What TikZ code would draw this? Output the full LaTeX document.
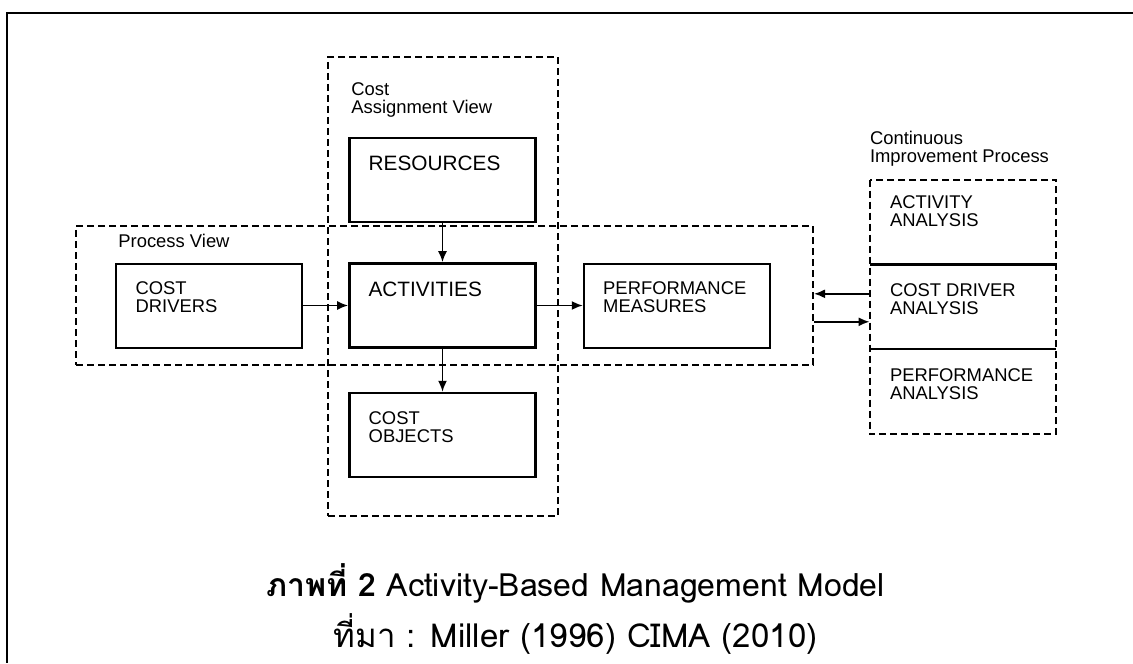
\documentclass[tikz,border=0pt]{standalone}
\usepackage{fontspec}
\setmainfont{Liberation Sans}
\newfontfamily\thaifont[Script=Thai]{Loma}
\usetikzlibrary{positioning,arrows.meta}
\newcommand{\boxfnt}{\fontsize{9.2}{9}\selectfont}
\newcommand{\bigfnt}{\fontsize{10.4}{10}\selectfont}

\tikzset{
	box/.style={draw, line width=1pt, minimum width=93pt, minimum height=42pt, inner sep=0pt},
	sect/.style={minimum width=93pt, minimum height=42pt, inner sep=0pt},
	frame/.style={draw, line width=1pt, dash pattern=on 3.5pt off 2pt, inner sep=0pt},
	boxtext/.style={anchor=north west, align=left, inner sep=0pt, font=\boxfnt, xshift=10pt, yshift=-9.5pt},
	captext/.style={inner sep=0pt, font=\thaifont\fontsize{16.5}{18}\selectfont},
	arr/.style={-{Latex[length=5.5pt,width=4.5pt]}, line width=0.9pt},
}

\begin{document}
\begin{tikzpicture}[x=0.5pt, y=-0.5pt]
	\useasboundingbox (0,0) rectangle (1133,663);
	\draw[line width=1.2pt] (1133,13) -- (7,13) -- (7,663);

	\node[frame, minimum width=115pt, minimum height=229.5pt] (costview) at (443,286.5) {};
	\node[frame, minimum width=368.5pt, minimum height=69.5pt] (procview) at (444.5,295.5) {};
	\node[boxtext, xshift=2pt, yshift=-3.5pt] (costviewtxt) at (costview.north west) {Cost\\Assignment View};
	\node[boxtext, xshift=11.5pt, yshift=5pt] (procviewtxt) at (procview.north west) {Process View};

	\node[box, line width=1.3pt, label={[boxtext, font=\bigfnt]north west:ACTIVITIES}] (act) at (442.5,305.5) {};
	\node[box, line width=1.2pt, above=19.5pt of act, label={[boxtext, font=\bigfnt]north west:RESOURCES}] (res) {};
	\node[box, line width=1.2pt, below=21.5pt of act, label={[boxtext]north west:COST\\OBJECTS}] (obj) {};
	\node[box, left=22.5pt of act, label={[boxtext]north west:COST\\DRIVERS}] (drv) {};
	\node[box, right=23pt of act, label={[boxtext]north west:PERFORMANCE\\MEASURES}] (pm) {};

	\node[sect, label={[boxtext, yshift=1.5pt]north west:ACTIVITY\\ANALYSIS}] (aa) at (963,222) {};
	\node[sect, below=0pt of aa, label={[boxtext]north west:COST DRIVER\\ANALYSIS}] (cda) {};
	\node[sect, below=0pt of cda, label={[boxtext]north west:PERFORMANCE\\ANALYSIS}] (pa) {};
	\draw[frame] (aa.north west) rectangle (pa.south east);
	\draw[line width=1.2pt] (aa.south west) -- (aa.south east);
	\draw[line width=1.2pt] (cda.south west) -- (cda.south east);
	\node[boxtext, xshift=-10pt, yshift=34pt] (citxt) at (aa.north west) {Continuous\\Improvement Process};

	\draw[arr] (res) -- (act);
	\draw[arr] (act) -- (obj);
	\draw[arr] (drv) -- (act);
	\draw[arr] (act) -- (pm);
	\draw[arr] ([yshift=6.5pt]cda.west) -- ([yshift=6.5pt]cda.west -| procview.east);
	\draw[arr] ([yshift=-7.5pt]cda.west -| procview.east) -- ([yshift=-7.5pt]cda.west);

	\node[captext, font=\thaifont\fontsize{16}{18}\selectfont] (caption) at (575.5,583) {\bfseries ภาพที่ 2\mdseries\ Activity-Based Management Model};
	\node[captext] (source) at (575.5,634) {ที่มา : Miller (1996) CIMA (2010)};
\end{tikzpicture}
\end{document}
